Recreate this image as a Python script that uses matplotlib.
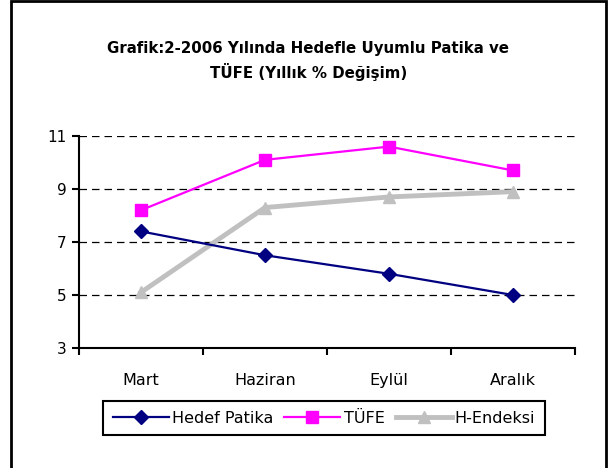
import matplotlib
matplotlib.use('Agg')
from matplotlib import pyplot as plt
from matplotlib.patches import Rectangle

months = ['Mart', 'Haziran', 'Eylül', 'Aralık']
hedef_patika = [7.4, 6.5, 5.8, 5.0]
tufe = [8.2, 10.1, 10.6, 9.7]
h_endeksi = [5.1, 8.3, 8.7, 8.9]
y_ticks = [3, 5, 7, 9, 11]

plt.rcParams['font.family'] = ['DejaVu Sans']

fig = plt.figure(figsize=(6.08, 4.68), dpi=100)
ax = fig.add_axes([79/608, 1-348/468, (575-79)/608, (348-136)/468])

x = range(len(months))
ax.plot(x, hedef_patika, color='#000080', lw=1.6, marker='D', ms=7, label='Hedef Patika', zorder=4)
ax.plot(x, tufe, color='#FF00FF', lw=1.6, marker='s', ms=8, label='TÜFE', zorder=4)
ax.plot(x, h_endeksi, color='#C0C0C0', lw=3.5, marker='^', ms=9, label='H-Endeksi', zorder=3)

ax.set_ylim(3, 11)
ax.set_yticks(y_ticks)
ax.set_xlim(-0.5, len(months) - 0.5)
ax.set_xticks(list(x))
ax.set_xticklabels(months)
ax.set_xticks([i - 0.5 for i in range(len(months) + 1)], minor=True)
ax.tick_params(axis='x', which='major', length=0, pad=18, labelsize=11.5)
ax.tick_params(axis='x', which='minor', length=5, width=1.5, direction='out')
ax.tick_params(axis='y', length=5, width=1.5, direction='out', labelsize=11, pad=4)

for v in y_ticks[1:]:
    ax.axhline(v, color='black', lw=0.9, ls=(0, (6, 4)), zorder=1)

for s in ['top', 'right']:
    ax.spines[s].set_visible(False)
for s in ['left', 'bottom']:
    ax.spines[s].set_linewidth(1.5)

fig.text(0.507, 1-48/468, 'Grafik:2-2006 Yılında Hedefle Uyumlu Patika ve', ha='center', va='center',
         fontsize=10.8, fontweight='bold')
fig.text(0.507, 1-72/468, 'TÜFE (Yıllık % Değişim)', ha='center', va='center',
         fontsize=10.8, fontweight='bold')

leg = fig.legend(loc='center', bbox_to_anchor=(324/608, 1-418/468), ncol=3, fancybox=False,
                 edgecolor='black', fontsize=11.5, handlelength=3.5, columnspacing=0.7,
                 handletextpad=0.2, borderpad=0.6, framealpha=1)
leg.get_frame().set_linewidth(1.5)

fig.patches.append(Rectangle((11/608, -0.05), (606-11)/608, 1-1/468+0.05, transform=fig.transFigure,
                             fill=False, edgecolor='black', lw=2))

fig.savefig('out.png', dpi=100)
